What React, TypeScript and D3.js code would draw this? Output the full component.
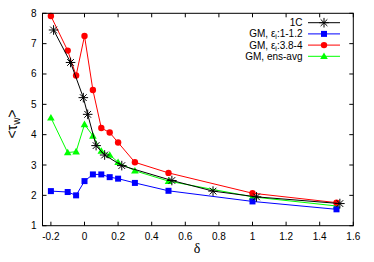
import { useEffect, useRef } from "react"
import * as d3 from "d3"

const oneCX = [-0.184, -0.083, -0.007, 0.019, 0.069, 0.12, 0.222, 0.52, 0.765, 1.024, 1.52]
const oneCY = [7.45, 6.38, 5.22, 4.67, 3.64, 3.33, 2.98, 2.49, 2.14, 1.95, 1.73]

const gmX = [-0.2, -0.1, -0.05, 0, 0.05, 0.1, 0.15, 0.2, 0.3, 0.5, 1, 1.5]
const lowY = [2.14, 2.11, 2.0, 2.47, 2.69, 2.69, 2.6, 2.55, 2.41, 2.15, 1.8, 1.54]
const highY = [7.91, 6.77, 5.95, 7.25, 5.47, 4.22, 4.07, 3.74, 3.09, 2.74, 2.07, 1.76]
const avgY = [4.56, 3.41, 3.44, 4.34, 3.96, 3.46, 3.33, 3.09, 2.81, 2.47, 1.95, 1.65]

const xTicks = [-0.2, 0, 0.2, 0.4, 0.6, 0.8, 1, 1.2, 1.4, 1.6]
const yTicks = [1, 2, 3, 4, 5, 6, 7, 8]

type Series = { name: string; sub?: string; xs: number[]; ys: number[]; color: string; marker: string }

const series: Series[] = [
  { name: "1C", xs: oneCX, ys: oneCY, color: "#000000", marker: "star" },
  { name: "GM, ε", sub: ":1-1.2", xs: gmX, ys: lowY, color: "#0000ff", marker: "square" },
  { name: "GM, ε", sub: ":3.8-4", xs: gmX, ys: highY, color: "#ff0000", marker: "circle" },
  { name: "GM, ens-avg", xs: gmX, ys: avgY, color: "#00ff00", marker: "triangle" },
]

const drawMarker = (g: d3.Selection<SVGGElement, unknown, null, undefined>, kind: string, x: number, y: number, color: string) => {
  if (kind === "star") {
    const r = 4.8
    g.append("path")
      .attr("d", `M${x - r},${y}h${2 * r}M${x},${y - r}v${2 * r}M${x - r * 0.7},${y - r * 0.7}l${r * 1.4},${r * 1.4}M${x - r * 0.7},${y + r * 0.7}l${r * 1.4},${-r * 1.4}`)
      .attr("stroke", color)
      .attr("stroke-width", 1)
  } else if (kind === "square") {
    g.append("rect").attr("x", x - 3).attr("y", y - 3).attr("width", 6).attr("height", 6).attr("fill", color)
  } else if (kind === "circle") {
    g.append("circle").attr("cx", x).attr("cy", y).attr("r", 3.2).attr("fill", color)
  } else {
    g.append("path").attr("d", `M${x},${y - 3.8}L${x + 3.8},${y + 2.8}L${x - 3.8},${y + 2.8}Z`).attr("fill", color)
  }
}

export default function App() {
  const svgRef = useRef<SVGSVGElement | null>(null)

  useEffect(() => {
    if (!svgRef.current) return
    const svg = d3.select(svgRef.current)
    svg.selectAll("*").remove()

    const left = 42.5
    const right = 353.3
    const top = 13.3
    const bottom = 225.7

    const x = d3.scaleLinear().domain([-0.25, 1.6]).range([left, right])
    const y = d3.scaleLinear().domain([1, 8]).range([bottom, top])
    const font = "Liberation Sans, Arial, sans-serif"

    // ticks on all four sides, pointing inward
    const g = svg.append("g").attr("stroke", "#000").attr("stroke-width", 1)
    xTicks.forEach((t) => {
      g.append("line").attr("x1", x(t)).attr("x2", x(t)).attr("y1", bottom).attr("y2", bottom - 4)
      g.append("line").attr("x1", x(t)).attr("x2", x(t)).attr("y1", top).attr("y2", top + 4)
    })
    yTicks.forEach((t) => {
      g.append("line").attr("x1", left).attr("x2", left + 4).attr("y1", y(t)).attr("y2", y(t))
      g.append("line").attr("x1", right).attr("x2", right - 4).attr("y1", y(t)).attr("y2", y(t))
    })

    svg.append("g")
      .selectAll("text")
      .data(xTicks)
      .join("text")
      .attr("x", (d) => x(d))
      .attr("y", bottom + 14)
      .attr("text-anchor", "middle")
      .attr("font-family", font)
      .attr("font-size", 10)
      .text((d) => String(d))

    svg.append("g")
      .selectAll("text")
      .data(yTicks)
      .join("text")
      .attr("x", left - 6)
      .attr("y", (d) => y(d) + 3.5)
      .attr("text-anchor", "end")
      .attr("font-family", font)
      .attr("font-size", 10)
      .text((d) => String(d))

    const line = d3.line<[number, number]>().x((d) => x(d[0])).y((d) => y(d[1]))

    const plot = svg.append("g")
    ;[3, 2, 1, 0].forEach((i) => {
      const s = series[i]
      const pts = s.xs.map((v, j) => [v, s.ys[j]] as [number, number])
      plot.append("path").attr("d", line(pts)).attr("fill", "none").attr("stroke", s.color).attr("stroke-width", 1)
      const mg = plot.append("g")
      pts.forEach((p) => drawMarker(mg, s.marker, x(p[0]), y(p[1]), s.color))
    })

    svg.append("rect")
      .attr("x", left).attr("y", top).attr("width", right - left).attr("height", bottom - top)
      .attr("fill", "none").attr("stroke", "#000").attr("stroke-width", 1)

    // legend
    const lg = svg.append("g")
    series.forEach((s, i) => {
      const ly = 22.7 + i * 11.2
      const t = lg.append("text")
        .attr("x", 302.5).attr("y", ly + 3.5)
        .attr("text-anchor", "end")
        .attr("font-family", font)
        .attr("font-size", 10)
      t.append("tspan").text(s.name)
      if (s.sub) {
        t.append("tspan").attr("font-size", 7).attr("dy", 2).text("i")
        t.append("tspan").attr("dy", -2).text(s.sub)
      }
      lg.append("line").attr("x1", 308).attr("x2", 340).attr("y1", ly).attr("y2", ly).attr("stroke", s.color).attr("stroke-width", 1)
      drawMarker(lg, s.marker, 324, ly, s.color)
    })

    svg.append("text")
      .attr("x", 197).attr("y", 253)
      .attr("text-anchor", "middle")
      .attr("font-family", "Liberation Serif, serif")
      .attr("font-size", 14)
      .text("δ")

    const yl = svg.append("text")
      .attr("transform", `translate(17,124) rotate(-90)`)
      .attr("text-anchor", "middle")
      .attr("font-family", font)
      .attr("font-size", 14)
    yl.append("tspan").text("<τ")
    yl.append("tspan").attr("font-size", 10).attr("dy", 3).text("w")
    yl.append("tspan").attr("dy", -3).text(">")
  }, [])

  return (
    <svg ref={svgRef} width={374} height={262} style={{ position: "absolute", left: 0, top: 0, background: "#fff" }} />
  )
}
